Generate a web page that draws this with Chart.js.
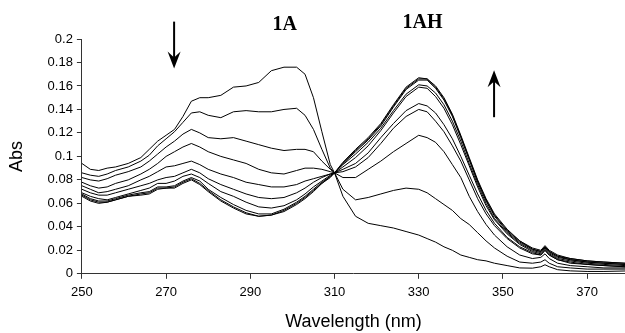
<!DOCTYPE html>
<html>
<head>
<meta charset="utf-8">
<script src="https://cdn.jsdelivr.net/npm/chart.js@4.4.1/dist/chart.umd.min.js"></script>
<style>
  html, body { margin: 0; padding: 0; background: #fff; }
  #wrap { width: 625px; height: 333px; }
</style>
</head>
<body>
<div id="wrap"><canvas id="absChart" width="625" height="333"></canvas></div>
<script>
// wavelength grid (nm) shared by every spectrum
const wavelengths = [
  250, 252, 254, 256, 258, 261, 264, 266, 268, 270,
  272, 274, 276, 278, 280, 283, 286, 289, 292, 295,
  298, 301, 303, 305, 307, 309, 310, 312, 315, 318,
  321, 324, 327, 330, 332, 334, 336, 338, 340, 342,
  344, 346, 348, 351, 354, 357, 359, 360, 361, 363,
  366, 370, 374, 379
];

// absorbance, one array per spectrum (1A rich -> 1AH rich)
const spectrum1 = [
  .094, .089, .088, .090, .091, .094, .099, .106, .113, .118,
  .123, .134, .147, .150, .150, .152, .159, .160, .163, .173,
  .176, .176, .170, .150, .121, .093, .086, .066, .049, .043,
  .041, .039, .036, .033, .030, .027, .023, .020, .016, .014,
  .012, .011, .009, .007, .005, .0048, .006, .0077, .006, .0035,
  .0025, .002, .002, .0024
];
const spectrum2 = [
  .086, .084, .083, .085, .088, .091, .096, .101, .109, .115,
  .121, .129, .137, .138, .135, .133, .138, .139, .138, .138,
  .140, .141, .135, .123, .106, .090, .086, .072, .063, .065,
  .068, .071, .073, .072, .069, .064, .059, .054, .047, .042,
  .035, .028, .022, .015, .010, .009, .010, .012, .009, .006,
  .005, .004, .004, .004
];
const spectrum3 = [
  .082, .080, .079, .081, .084, .087, .091, .096, .102, .108,
  .113, .119, .123, .120, .116, .115, .116, .113, .110, .107,
  .105, .106, .106, .104, .096, .089, .086, .082, .082, .089,
  .096, .104, .111, .118, .116, .112, .104, .093, .082, .066,
  .053, .042, .033, .023, .016, .013, .014, .017, .013, .009,
  .007, .006, .005, .005
];
const spectrum4 = [
  .078, .075, .073, .074, .077, .080, .085, .089, .094, .100,
  .104, .108, .111, .108, .104, .100, .097, .094, .089, .086,
  .085, .088, .090, .090, .089, .087, .086, .087, .091, .099,
  .111, .124, .134, .140, .138, .130, .121, .109, .096, .080,
  .064, .051, .041, .030, .022, .017, .016, .020, .016, .012,
  .009, .008, .007, .006
];
const spectrum5 = [
  .075, .072, .069, .070, .072, .075, .080, .083, .087, .091,
  .092, .094, .096, .093, .089, .085, .082, .078, .076, .074,
  .074, .076, .079, .081, .083, .085, .086, .089, .094, .103,
  .116, .128, .139, .145, .143, .137, .127, .115, .100, .084,
  .068, .054, .043, .031, .023, .018, .016, .020, .016, .012,
  .010, .008, .007, .006
];
const spectrum6 = [
  .072, .069, .067, .067, .069, .072, .075, .077, .080, .082,
  .083, .086, .089, .086, .081, .076, .072, .068, .065, .064,
  .065, .069, .073, .078, .082, .085, .086, .091, .099, .109,
  .122, .137, .151, .159, .158, .151, .141, .127, .110, .092,
  .074, .058, .046, .034, .025, .019, .017, .021, .017, .013,
  .011, .009, .008, .007
];
const spectrum7 = [
  .069, .066, .064, .063, .065, .068, .071, .073, .077, .077,
  .079, .083, .085, .082, .077, .070, .066, .061, .057, .056,
  .058, .063, .068, .074, .079, .084, .086, .093, .102, .112,
  .124, .139, .153, .161, .160, .154, .144, .130, .113, .094,
  .076, .060, .047, .035, .026, .020, .018, .022, .018, .014,
  .012, .010, .009, .008
];
const spectrum8 = [
  .068, .064, .062, .062, .064, .067, .069, .070, .074, .074,
  .075, .079, .082, .079, .072, .065, .059, .054, .051, .051,
  .055, .061, .066, .072, .078, .083, .086, .094, .104, .114,
  .126, .142, .157, .165, .165, .158, .148, .134, .116, .097,
  .078, .062, .049, .036, .027, .021, .019, .023, .019, .015,
  .012, .010, .009, .008
];
const spectrum9 = [
  .067, .063, .061, .061, .063, .066, .068, .069, .073, .073,
  .074, .078, .081, .077, .071, .063, .057, .052, .049, .050,
  .054, .060, .065, .071, .077, .083, .086, .094, .105, .115,
  .127, .143, .158, .166, .166, .159, .149, .135, .117, .098,
  .079, .063, .050, .037, .028, .021, .019, .023, .019, .015,
  .013, .011, .010, .009
];
const spectrum10 = [
  .066, .062, .060, .061, .063, .066, .067, .068, .072, .073,
  .073, .077, .080, .076, .070, .062, .056, .051, .049, .050,
  .053, .059, .064, .070, .077, .082, .086, .095, .106, .116,
  .128, .144, .159, .167, .166, .160, .150, .136, .118, .099,
  .080, .064, .051, .038, .028, .022, .020, .024, .020, .016,
  .013, .011, .010, .009
];

const xTickValues = [250, 270, 290, 310, 330, 350, 370];
const yTickValues = [0, 0.02, 0.04, 0.06, 0.08, 0.1, 0.12, 0.14, 0.16, 0.18, 0.2];
const bandLabels = ['1A', '1AH'];

const allSpectra = [spectrum1, spectrum2, spectrum3, spectrum4, spectrum5,
                    spectrum6, spectrum7, spectrum8, spectrum9, spectrum10];

const datasets = allSpectra.map((s, n) => ({
  label: 'Spectrum ' + (n + 1),
  data: wavelengths.map((w, i) => ({ x: w, y: s[i] })),
  borderColor: '#000',
  borderWidth: 1,
  pointRadius: 0,
  fill: false,
  tension: 0
}));

// vertical arrow, tip at yTip
function drawArrow(ctx, px, yTail, yTip) {
  const dir = Math.sign(yTip - yTail);
  const len = 17, half = 6.5;
  ctx.lineWidth = 2;
  ctx.beginPath();
  ctx.moveTo(px, yTail);
  ctx.lineTo(px, yTip - dir * len * 0.6);
  ctx.stroke();
  ctx.beginPath();
  ctx.moveTo(px, yTip);
  ctx.lineTo(px - half, yTip - dir * len);
  ctx.lineTo(px, yTip - dir * len * 0.65);
  ctx.lineTo(px + half, yTip - dir * len);
  ctx.closePath();
  ctx.fill();
}

const bandMarks = {
  id: 'bandMarks',
  afterDatasetsDraw(chart) {
    const { ctx, scales: { x, y } } = chart;
    ctx.save();
    ctx.fillStyle = '#000';
    ctx.strokeStyle = '#000';
    ctx.font = 'bold 20px "Liberation Serif", "Times New Roman", serif';
    ctx.textAlign = 'center';
    ctx.textBaseline = 'middle';
    ctx.fillText(bandLabels[0], x.getPixelForValue(298.2), y.getPixelForValue(0.2124));
    ctx.fillText(bandLabels[1], x.getPixelForValue(330.9), y.getPixelForValue(0.2137));
    drawArrow(ctx, x.getPixelForValue(271.9), y.getPixelForValue(0.2148), y.getPixelForValue(0.1748));
    drawArrow(ctx, x.getPixelForValue(347.9), y.getPixelForValue(0.1334), y.getPixelForValue(0.1733));
    ctx.restore();
  }
};

const sansFont = '"Liberation Sans", Arial, sans-serif';

new Chart(document.getElementById('absChart'), {
  type: 'line',
  data: { datasets: datasets },
  plugins: [bandMarks],
  options: {
    responsive: false,
    animation: false,
    layout: { padding: { top: 39, left: 6, right: 0, bottom: 0 } },
    plugins: { legend: { display: false }, tooltip: { enabled: false } },
    scales: {
      x: {
        type: 'linear',
        min: 250,
        max: 379,
        afterBuildTicks: axis => { axis.ticks = xTickValues.map(v => ({ value: v })); },
        ticks: { color: '#000', font: { family: sansFont, size: 13 }, padding: 6, maxRotation: 0 },
        grid: { display: true, drawOnChartArea: false, drawTicks: true, tickLength: 5, color: '#333' },
        border: { display: true, color: '#333' },
        title: { display: true, text: 'Wavelength (nm)', color: '#000',
                 font: { family: sansFont, size: 18 }, padding: { top: 5, bottom: 0 } }
      },
      y: {
        min: 0,
        max: 0.2,
        afterBuildTicks: axis => { axis.ticks = yTickValues.map(v => ({ value: v })); },
        ticks: { color: '#000', font: { family: sansFont, size: 13 }, padding: 4,
                 callback: v => String(+v.toFixed(2)) },
        grid: { display: true, drawOnChartArea: false, drawTicks: true, tickLength: 5, color: '#333' },
        border: { display: true, color: '#333' },
        title: { display: true, text: 'Abs', color: '#000',
                 font: { family: sansFont, size: 18 }, padding: { top: 0, bottom: 16 } }
      }
    }
  }
});
</script>
</body>
</html>
